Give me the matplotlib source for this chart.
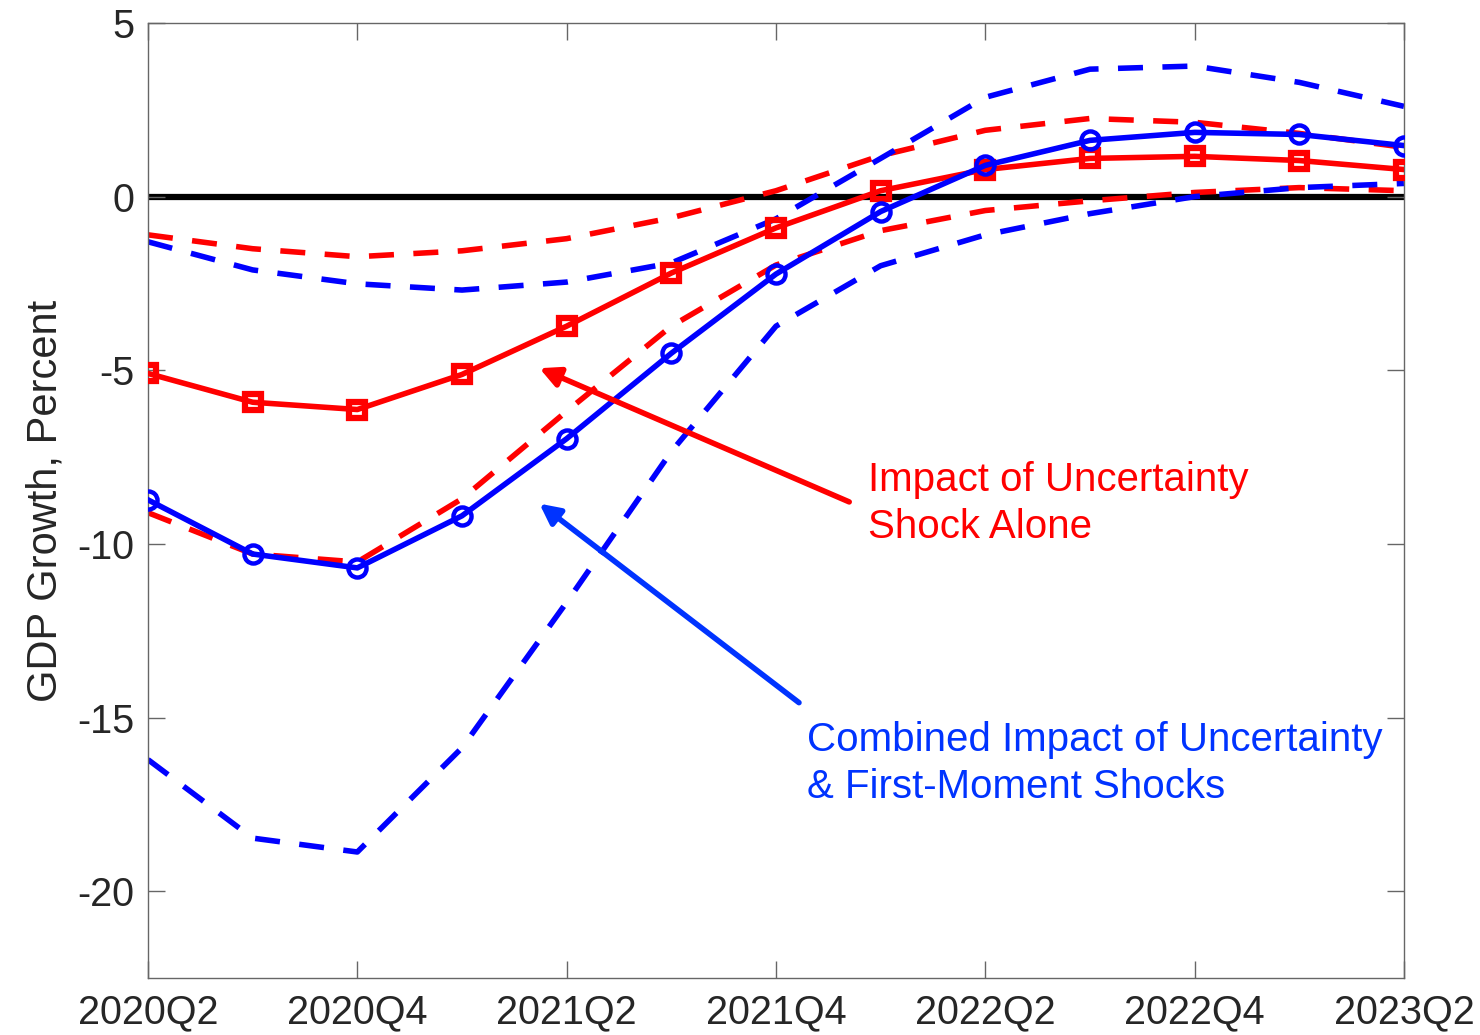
import numpy as np
import matplotlib
matplotlib.use("Agg")
import matplotlib.pyplot as plt

plt.rcParams['font.family'] = ['Liberation Sans', 'DejaVu Sans']
plt.rcParams['axes.unicode_minus'] = False

quarters = ["2020Q2", "2020Q3", "2020Q4", "2021Q1", "2021Q2", "2021Q3", "2021Q4",
            "2022Q1", "2022Q2", "2022Q3", "2022Q4", "2023Q1", "2023Q2"]

# combined impact (blue) with bands
combined = [-8.73, -10.29, -10.69, -9.19, -6.97, -4.51, -2.23, -0.43, 0.90, 1.62, 1.85, 1.79, 1.47]
combined_hi = [-1.30, -2.11, -2.51, -2.69, -2.46, -1.91, -0.64, 1.10, 2.86, 3.67, 3.76, 3.29, 2.60]
combined_lo = [-16.21, -18.47, -18.87, -15.87, -11.68, -7.34, -3.73, -1.99, -1.10, -0.49, 0.0, 0.26, 0.38]

# uncertainty shock alone (red) with bands
unc = [-5.09, -5.92, -6.13, -5.12, -3.73, -2.20, -0.90, 0.17, 0.78, 1.10, 1.16, 1.04, 0.78]
unc_hi = [-1.10, -1.50, -1.73, -1.56, -1.21, -0.61, 0.17, 1.18, 1.91, 2.25, 2.14, 1.82, 1.42]
unc_lo = [-9.10, -10.29, -10.52, -8.70, -6.18, -3.73, -1.97, -0.98, -0.40, -0.12, 0.12, 0.26, 0.17]

x = np.arange(len(quarters))

fig = plt.figure(figsize=(14.8, 10.35), dpi=100)
ax = fig.add_axes([0.1, 0.055, 0.8486, 0.9228])

ax.plot([x[0], x[-1]], [0, 0], color='black', lw=4.5, zorder=1)

dash = (0, (4.5, 3.5))
ax.plot(x, unc_hi, color='red', lw=4, ls=dash, zorder=2)
ax.plot(x, unc_lo, color='red', lw=4, ls=dash, zorder=2)
ax.plot(x, combined_hi, color='blue', lw=4, ls=dash, zorder=2)
ax.plot(x, combined_lo, color='blue', lw=4, ls=dash, zorder=2)

ax.plot(x, unc, color='red', lw=4, marker='s', ms=12, mfc='none', mew=4.5, zorder=3)
ax.plot(x, combined, color='blue', lw=4, marker='o', ms=13, mfc='none', mew=3.2, zorder=3)

ax.annotate("", xy=(3.74, -4.94), xytext=(6.70, -8.79),
            arrowprops=dict(arrowstyle='-|>', color='red', lw=4, mutation_scale=30,
                            shrinkA=0, shrinkB=0))
ax.text(6.88, -8.83, "Impact of Uncertainty\nShock Alone", color='red',
        fontsize=29, va='center', ha='left', linespacing=1.3)

ax.annotate("", xy=(3.74, -8.84), xytext=(6.22, -14.57),
            arrowprops=dict(arrowstyle='-|>', color='#0033ff', lw=4, mutation_scale=30,
                            shrinkA=0, shrinkB=0))
ax.text(6.30, -16.33, "Combined Impact of Uncertainty\n& First-Moment Shocks", color='#0033ff',
        fontsize=29, va='center', ha='left', linespacing=1.3)

ax.set_xlim(0, 12)
ax.set_ylim(-22.5, 5)
ax.set_xticks(x[::2])
ax.set_xticklabels(quarters[::2])
ax.set_yticks([-20, -15, -10, -5, 0, 5])
ax.tick_params(direction='in', length=12, width=1, color='#666666', labelcolor='#262626',
               labelsize=28.5, top=True, right=True, pad=10)
ax.tick_params(axis='x', pad=11)
for s in ax.spines.values():
    s.set_color('#666666')
    s.set_linewidth(1)
ax.set_ylabel("GDP Growth, Percent", fontsize=30, color='#262626', labelpad=8)

fig.savefig("out.png", dpi=100)
